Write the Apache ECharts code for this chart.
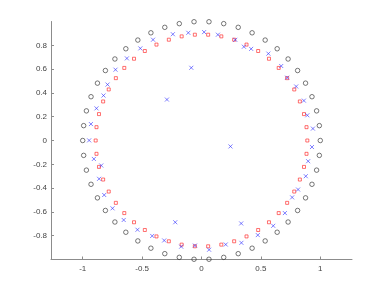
<!DOCTYPE html>
<html>
<head>
<meta charset="utf-8">
<script src="https://cdn.jsdelivr.net/npm/echarts@6/dist/echarts.min.js"></script>
<style>html,body{margin:0;padding:0;background:#fff}#c{width:389px;height:292px}</style>
</head>
<body>
<div id="c"></div>
<script>
// Black circles (unit circle points)
var circleX = [1, 0.992, 0.969, 0.930, 0.876, 0.809, 0.729, 0.637, 0.536, 0.426, 0.309, 0.187, 0.063,
  -0.063, -0.187, -0.309, -0.426, -0.536, -0.637, -0.729, -0.809, -0.876, -0.930, -0.969, -0.992, -1,
  -0.992, -0.969, -0.930, -0.876, -0.809, -0.729, -0.637, -0.536, -0.426, -0.309, -0.187, -0.063,
  0.063, 0.187, 0.309, 0.426, 0.536, 0.637, 0.729, 0.809, 0.876, 0.930, 0.969, 0.992];
var circleY = [0, 0.125, 0.249, 0.368, 0.482, 0.588, 0.685, 0.771, 0.844, 0.905, 0.951, 0.982, 0.998,
  0.998, 0.982, 0.951, 0.905, 0.844, 0.771, 0.685, 0.588, 0.482, 0.368, 0.249, 0.125, 0,
  -0.125, -0.249, -0.368, -0.482, -0.588, -0.685, -0.771, -0.844, -0.905, -0.951, -0.982, -0.998,
  -0.998, -0.982, -0.951, -0.905, -0.844, -0.771, -0.685, -0.588, -0.482, -0.368, -0.249, -0.125];
// Red squares
var squareX = [0.891, 0.884, 0.863, 0.828, 0.781, 0.721, 0.650, 0.568, 0.477, 0.379, 0.275, 0.167, 0.056,
  -0.056, -0.167, -0.275, -0.379, -0.477, -0.568, -0.650, -0.721, -0.781, -0.828, -0.863, -0.884, -0.891,
  -0.884, -0.863, -0.828, -0.781, -0.721, -0.650, -0.568, -0.477, -0.379, -0.275, -0.167, -0.056,
  0.056, 0.167, 0.275, 0.379, 0.477, 0.568, 0.650, 0.721, 0.781, 0.828, 0.863, 0.884];
var squareY = [0, 0.112, 0.222, 0.328, 0.429, 0.524, 0.610, 0.687, 0.752, 0.806, 0.847, 0.875, 0.889,
  0.889, 0.875, 0.847, 0.806, 0.752, 0.687, 0.610, 0.524, 0.429, 0.328, 0.222, 0.112, 0,
  -0.112, -0.222, -0.328, -0.429, -0.524, -0.610, -0.687, -0.752, -0.806, -0.847, -0.875, -0.889,
  -0.889, -0.875, -0.847, -0.806, -0.752, -0.687, -0.610, -0.524, -0.429, -0.328, -0.222, -0.112];
// Blue crosses
var crossX = [-0.946, -0.931, -0.884, -0.825, -0.791, -0.724, -0.628, -0.515, -0.408, -0.241, -0.111, -0.291, -0.086,
  0.022, 0.138, 0.284, 0.357, 0.418, 0.563, 0.671, 0.721, 0.797, 0.862, 0.891, 0.938,
  0.930, 0.898, 0.878, 0.813, 0.763, 0.702, 0.604, 0.474, 0.334, 0.336, 0.204, 0.064,
  -0.055, -0.171, -0.221, -0.314, -0.415, -0.539, -0.655, -0.749, -0.819, -0.862, -0.844, -0.906,
  0.244];
var crossY = [0.001, 0.138, 0.270, 0.378, 0.470, 0.595, 0.690, 0.774, 0.847, 0.893, 0.905, 0.344, 0.611,
  0.911, 0.889, 0.846, 0.788, 0.770, 0.730, 0.626, 0.528, 0.454, 0.335, 0.212, 0.100,
  -0.055, -0.174, -0.300, -0.412, -0.478, -0.610, -0.717, -0.795, -0.697, -0.860, -0.874, -0.918,
  -0.883, -0.892, -0.687, -0.840, -0.802, -0.750, -0.668, -0.570, -0.458, -0.322, -0.210, -0.155,
  -0.050];
// Tick labels
var xTicks = [-1, -0.5, 0, 0.5, 1];
var yTicks = [-0.8, -0.6, -0.4, -0.2, 0, 0.2, 0.4, 0.6, 0.8];

function zip(a, b) { return a.map(function (v, i) { return [v, b[i]]; }); }

var axisCommon = {
  type: 'value',
  splitLine: { show: false },
  axisLine: { show: true, onZero: false, lineStyle: { color: '#8c8c8c', width: 1 } },
  axisTick: { show: true, inside: true, length: 3, lineStyle: { color: '#8c8c8c', width: 1 } },
  axisLabel: { color: '#444', fontSize: 8, fontFamily: 'Liberation Sans, Arial, sans-serif' }
};

var chart = echarts.init(document.getElementById('c'), null, { renderer: 'canvas' });
chart.setOption({
  animation: false,
  backgroundColor: '#fff',
  grid: { left: 51, top: 21.5, width: 301, height: 238, containLabel: false, outerBoundsMode: 'none' },
  xAxis: echarts.util.merge({
    min: -1.267, max: 1.267,
    axisTick: { customValues: xTicks },
    axisLabel: { customValues: xTicks, margin: 5 }
  }, axisCommon),
  yAxis: echarts.util.merge({
    min: -1, max: 1,
    axisTick: { customValues: yTicks },
    axisLabel: { customValues: yTicks, margin: 4 }
  }, axisCommon),
  series: [
    {
      type: 'scatter', data: zip(circleX, circleY), symbol: 'circle', symbolSize: 4.5,
      itemStyle: { color: 'rgba(0,0,0,0)', borderColor: '#2a2a2a', borderWidth: 0.8 },
      emphasis: { disabled: true }, silent: true
    },
    {
      type: 'scatter', data: zip(squareX, squareY), symbol: 'rect', symbolSize: 3,
      itemStyle: { color: 'rgba(0,0,0,0)', borderColor: '#ff2020', borderWidth: 0.8 },
      emphasis: { disabled: true }, silent: true
    },
    {
      type: 'scatter', data: zip(crossX, crossY), symbol: 'path://M0,0L10,10M10,0L0,10', symbolSize: 4,
      itemStyle: { color: 'rgba(0,0,0,0)', borderColor: '#2a2aff', borderWidth: 0.75 },
      emphasis: { disabled: true }, silent: true
    }
  ]
});
</script>
</body>
</html>
